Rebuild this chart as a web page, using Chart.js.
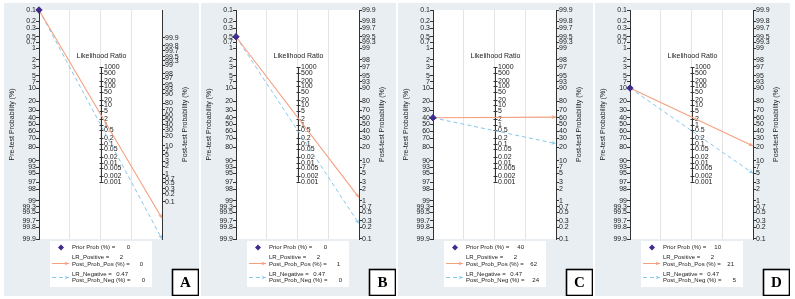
<!DOCTYPE html>
<html>
<head>
<meta charset="utf-8">
<script src="https://cdn.jsdelivr.net/npm/chart.js@4.4.1/dist/chart.umd.min.js"></script>
<style>
  body{ margin:0; background:#fff; width:795px; height:299px; overflow:hidden; position:relative; }
  canvas{ position:absolute; top:3px; background:#e8eef1; }
</style>
</head>
<body>
<canvas id="pA" width="195" height="293" style="left:4px"></canvas>
<canvas id="pB" width="195" height="293" style="left:201px"></canvas>
<canvas id="pC" width="195" height="293" style="left:398px"></canvas>
<canvas id="pD" width="195" height="293" style="left:595px"></canvas>
<script>

// values
const panelLetter = ['A', 'B', 'C', 'D']
const priorProb   = [0.1, 0.5, 40, 10]      // where the dot sits (%)
const postPosProb = [0.35, 1.2, 61, 21.5]   // end of LR+ arrow (%)
const postNegProb = [0.1, 0.25, 24, 5]      // end of LR- arrow (%)

const priorText   = ['0', '0', '40', '10']
const lrPosText   = ['2', '2', '2', '2']
const lrNegText   = ['0.47', '0.47', '0.47', '0.47']
const postPosText = ['0', '1', '62', '21']
const postNegText = ['0', '0', '24', '5']

const preTicks  = [0.1,0.2,0.3,0.5,0.7,1,2,3,5,7,10,20,30,40,50,60,70,80,90,93,95,97,98,99,99.3,99.5,99.7,99.8,99.9]
const postTicks = [99.9,99.8,99.7,99.5,99.3,99,98,97,95,93,90,80,70,60,50,40,30,20,10,7,5,3,2,1,0.7,0.5,0.3,0.2,0.1]
const lrTicks   = [1000,500,200,100,50,20,10,5,2,1,0.5,0.2,0.1,0.05,0.02,0.01,0.005,0.002,0.001]


const FONT   = "'Liberation Sans', Arial, Helvetica, sans-serif"
const ORANGE = '#f4a07f'
const BLUE   = '#86c8ec'
const PURPLE = '#3d2b8e'
const INK    = '#222'

const logit = p => Math.log((p / 100) / (1 - p / 100))
const LIM = logit(99.9)


function arrowHead(ctx, x0, y0, x1, y1, color){
      const a = Math.atan2(y1 - y0, x1 - x0), s = 5
      ctx.save()
      ctx.setLineDash([])
      ctx.fillStyle = color
      ctx.beginPath()
      ctx.moveTo(x1, y1)
      ctx.lineTo(x1 - s * Math.cos(a - 0.42), y1 - s * Math.sin(a - 0.42))
      ctx.lineTo(x1 - s * 0.6 * Math.cos(a), y1 - s * 0.6 * Math.sin(a))
      ctx.lineTo(x1 - s * Math.cos(a + 0.42), y1 - s * Math.sin(a + 0.42))
      ctx.closePath()
      ctx.fill()
      ctx.restore()
}


const fagan = {
      id: 'fagan',

      beforeDraw(c){   // white plot region
            const a = c.chartArea, ctx = c.ctx
            ctx.save()
            ctx.fillStyle = '#fff'
            ctx.fillRect(a.left, a.top, a.right - a.left, a.bottom - a.top)
            ctx.restore()
      },

      beforeDatasetsDraw(c){   // likelihood ratio axis in the middle
            const ctx = c.ctx, ys = c.scales.y
            const xm = Math.round(c.scales.x.getPixelForValue(0.5)) + 0.5
            const yOf = lr => ys.getPixelForValue(-Math.log(lr) / 2)

            ctx.save()
            ctx.strokeStyle = '#333'
            ctx.lineWidth = 1
            ctx.beginPath()
            ctx.moveTo(xm, yOf(lrTicks[0]))
            ctx.lineTo(xm, yOf(lrTicks[lrTicks.length - 1]))
            ctx.stroke()

            ctx.fillStyle = INK
            ctx.font = '7px ' + FONT
            ctx.textAlign = 'left'
            ctx.textBaseline = 'middle'
            lrTicks.forEach(lr => {
                  const y = Math.round(yOf(lr)) + 0.5
                  ctx.beginPath()
                  ctx.moveTo(xm - 2, y)
                  ctx.lineTo(xm + 2, y)
                  ctx.stroke()
                  ctx.fillText(String(lr), xm + 2.5, y)
            })

            ctx.textAlign = 'center'
            ctx.fillText('Likelihood Ratio', xm, yOf(lrTicks[0]) - 11)
            ctx.restore()
      },

      afterDatasetsDraw(c){   // arrow heads
            [1, 2].forEach(k => {
                  const pts = c.getDatasetMeta(k).data
                  arrowHead(c.ctx, pts[0].x, pts[0].y, pts[1].x, pts[1].y, c.data.datasets[k].borderColor)
            })
      },

      afterDraw(c, args, opts){
            const ctx = c.ctx, i = opts.panel, a = c.chartArea
            ctx.save()

            // right title reads bottom to top like the left one
            ctx.translate(181, (a.top + a.bottom) / 2)
            ctx.rotate(-Math.PI / 2)
            ctx.fillStyle = INK
            ctx.font = '7px ' + FONT
            ctx.textAlign = 'center'
            ctx.textBaseline = 'middle'
            ctx.fillText('Post-test Probability (%)', 0, 0)
            ctx.setTransform(1, 0, 0, 1, 0, 0)

            // legend
            ctx.fillStyle = '#fff'
            ctx.fillRect(46, 238, 102, 46)

            ctx.fillStyle = PURPLE
            ctx.beginPath()
            ctx.moveTo(57, 241.5); ctx.lineTo(60, 244.5); ctx.lineTo(57, 247.5); ctx.lineTo(54, 244.5)
            ctx.closePath(); ctx.fill()

            ctx.lineWidth = 1
            ctx.strokeStyle = ORANGE
            ctx.beginPath(); ctx.moveTo(48, 260.5); ctx.lineTo(65, 260.5); ctx.stroke()
            arrowHead(ctx, 48, 260.5, 65, 260.5, ORANGE)

            ctx.strokeStyle = BLUE
            ctx.setLineDash([4, 3])
            ctx.beginPath(); ctx.moveTo(48, 274.5); ctx.lineTo(65, 274.5); ctx.stroke()
            ctx.setLineDash([])
            arrowHead(ctx, 48, 274.5, 65, 274.5, BLUE)

            ctx.fillStyle = INK
            ctx.font = '6px ' + FONT
            ctx.textBaseline = 'middle'
            ctx.textAlign = 'left'
            ctx.fillText('Prior Prob (%) =', 68, 244.5)
            ctx.fillText('LR_Positive =', 68, 254.5)
            ctx.fillText('Post_Prob_Pos (%) =', 68, 261)
            ctx.fillText('LR_Negative =', 68, 271)
            ctx.fillText('Post_Prob_Neg (%) =', 68, 277.5)
            ctx.textAlign = 'right'
            ctx.fillText(priorText[i], 126, 244.5)
            ctx.fillText(lrPosText[i], 119, 254.5)
            ctx.fillText(postPosText[i], 139, 261)
            ctx.fillText(lrNegText[i], 124, 271)
            ctx.fillText(postNegText[i], 141, 277.5)

            // panel letter
            ctx.fillStyle = '#fff'
            ctx.fillRect(168.5, 266.5, 26, 26)
            ctx.strokeStyle = '#000'
            ctx.lineWidth = 1.6
            ctx.strokeRect(168.5, 266.5, 26, 26)
            ctx.fillStyle = '#000'
            ctx.font = 'bold 15px "Liberation Serif", "Times New Roman", serif'
            ctx.textAlign = 'center'
            ctx.textBaseline = 'middle'
            ctx.fillText(panelLetter[i], 181.5, 280.5)

            ctx.restore()
      }
}


function makePanel(i){

      // panel A's post-test axis is squeezed in the original
      const rightRange = i === 0 ? [-9.24, 10.02] : [-LIM, LIM]
      const y0 = logit(priorProb[i])

      const tickFont = { family: FONT, size: 7 }

      new Chart(document.getElementById('p' + panelLetter[i]), {
            type: 'scatter',
            data: {
                  datasets: [
                        { data: [{ x: 0, y: y0 }], pointStyle: 'rectRot', pointRadius: 3.2,
                          backgroundColor: PURPLE, borderColor: PURPLE, clip: false },
                        { data: [{ x: 0, y: y0 }, { x: 1, y: -logit(postPosProb[i]) }], showLine: true,
                          borderColor: ORANGE, borderWidth: 1.1, pointRadius: 0, clip: false },
                        { data: [{ x: 0, y: y0 }, { x: 1, y: -logit(postNegProb[i]) }], showLine: true,
                          borderColor: BLUE, borderWidth: 1, borderDash: [4, 3], pointRadius: 0, clip: false },
                  ]
            },
            options: {
                  responsive: false,
                  animation: false,
                  events: [],
                  layout: { padding: { top: 7, bottom: 57, left: 0, right: 0 } },
                  plugins: { legend: { display: false }, tooltip: { enabled: false }, fagan: { panel: i } },
                  scales: {
                        x: {
                              type: 'linear', min: 0, max: 1,
                              afterBuildTicks: s => { s.ticks = [0.25, 0.5, 0.75].map(v => ({ value: v })) },
                              afterFit: s => { s.height = 0 },
                              ticks: { display: false },
                              grid: { color: '#e4e4e4', lineWidth: 1, drawTicks: false },
                              border: { display: false },
                        },
                        y: {
                              type: 'linear', position: 'left', reverse: true, min: -LIM, max: LIM,
                              afterBuildTicks: s => { s.ticks = preTicks.map(p => ({ value: logit(p) })) },
                              afterFit: s => { s.width = 35 },
                              ticks: { autoSkip: false, padding: 0, color: INK, font: tickFont,
                                       callback: (v, k) => String(preTicks[k]) },
                              grid: { drawOnChartArea: false, tickLength: 3, color: '#333' },
                              border: { color: '#333', width: 1 },
                              title: { display: true, text: 'Pre-test Probability (%)', color: INK,
                                       font: tickFont, padding: { top: 4, bottom: 0 } },
                        },
                        yR: {
                              type: 'linear', position: 'right', reverse: true,
                              min: rightRange[0], max: rightRange[1],
                              afterBuildTicks: s => { s.ticks = postTicks.map(p => ({ value: -logit(p) })) },
                              afterFit: s => { s.width = 37 },
                              ticks: { autoSkip: false, padding: 0, color: INK, font: tickFont,
                                       callback: (v, k) => String(postTicks[k]) },
                              grid: { drawOnChartArea: false, tickLength: 3, color: '#333' },
                              border: { color: '#333', width: 1 },
                        },
                  }
            },
            plugins: [fagan]
      })
}

panelLetter.forEach((l, i) => makePanel(i))

</script>
</body>
</html>
